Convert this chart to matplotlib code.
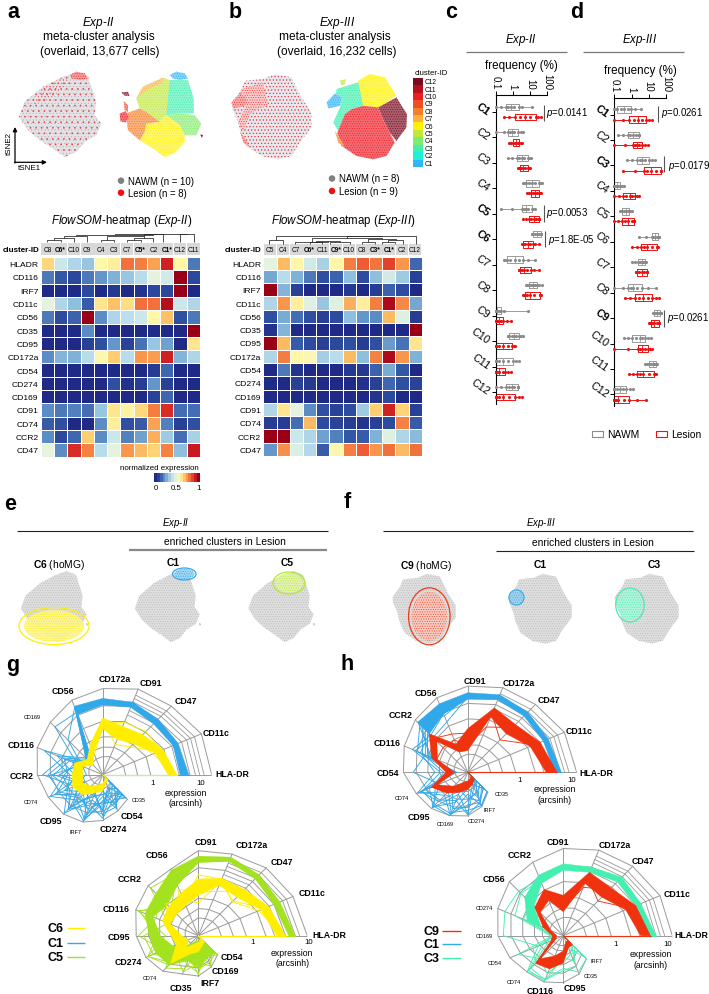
import numpy as np
import matplotlib
matplotlib.use('Agg')
import matplotlib.pyplot as plt
from matplotlib.patches import Polygon, Rectangle, Ellipse
from matplotlib.colors import LinearSegmentedColormap, to_rgb

plt.rcParams['font.family'] = ['Liberation Sans', 'DejaVu Sans']
plt.rcParams['mathtext.fontset'] = 'custom'
plt.rcParams['mathtext.it'] = 'Liberation Sans:italic'
plt.rcParams['mathtext.rm'] = 'Liberation Sans'
plt.rcParams['mathtext.bf'] = 'Liberation Sans:bold'
plt.rcParams['hatch.linewidth'] = 0.4

W, H = 709, 995
MARKERS_II = ['HLADR','CD116','IRF7','CD11c','CD56','CD35','CD95','CD172a','CD54','CD274','CD169','CD91','CD74','CCR2','CD47']
HEAD_II = ['C8','C6*','C10','C9','C4','C3','C7','C5*','C2','C1*','C12','C11']
HEAD_III = ['C5','C4','C7','C6*','C11','C9*','C10','C8','C3*','C1*','C2','C12']
HEAT_II = [
 [.63,.42,.36,.32,.56,.58,.80,.78,.72,.92,.56,.17],
 [.17,.11,.08,.17,.22,.27,.32,.38,.47,.43,1.0,.08],
 [0,0,0,.08,0,.04,0,.03,.08,.08,1.0,0],
 [.47,.36,.30,.12,.60,.67,.62,.80,.80,.96,.42,.36],
 [.17,.09,.13,1.0,.20,.36,.39,.42,.56,.67,.10,.17],
 [0,0,0,.20,0,0,0,0,.01,0,0,1.0],
 [0,0,0,.06,.10,.22,.07,.16,.32,.24,0,.60],
 [.20,.28,.27,.38,.55,.65,.38,.74,.73,.92,.28,.36],
 [0,0,0,0,0,0,0,0,.05,.14,0,0],
 [0,0,0,0,0,.10,.02,.05,.22,.06,0,0],
 [0,0,0,0,0,0,0,0,.07,.14,0,0],
 [.20,.17,.18,.15,.32,.60,.57,.63,.78,.90,.15,.15],
 [.12,.10,0,0,.20,.58,.10,.12,.72,.18,.06,.10],
 [.20,.08,.14,.65,.20,.42,.18,.24,.70,.33,.15,.35],
 [.48,.20,.90,.77,.38,.47,.74,.68,.64,.77,.30,.93]]
HEAT_III = [
 [.47,.68,.56,.43,.35,.56,.78,.83,.79,.87,.74,.14],
 [.25,.38,.27,.17,.10,.13,.30,.09,.30,.43,.33,.06],
 [1.0,.28,.06,0,0,0,.04,0,.05,.13,.09,0],
 [.36,.74,.58,.46,.32,.46,.70,.58,.78,.97,.76,.25],
 [.10,.26,.15,.10,.06,.09,.30,.22,.20,.68,.46,.05],
 [.03,.28,0,0,0,0,0,0,0,0,0,1.0],
 [1.0,.68,.12,.09,.06,.08,.10,.05,.10,.23,.16,.60],
 [.36,.78,.56,.54,.34,.38,.68,.30,.77,.97,.74,.27],
 [0,.17,.03,0,0,0,.04,.04,.13,.26,.11,0],
 [0,0,.06,.04,0,0,0,.02,.06,.14,.10,.07],
 [0,0,0,0,0,0,0,0,.03,.08,0,0],
 [.36,.60,.47,.20,.10,.07,.09,.33,.65,.92,.64,.06],
 [.05,.05,.15,.68,.09,.07,.05,.03,.06,.09,.77,.12],
 [1.0,1.0,.42,.36,.24,.18,.11,.12,.27,.46,.36,.29],
 [.22,.75,.45,.37,.12,.55,.78,.83,.74,.80,.68,.80]]

CLUSTERS = ['C%d' % i for i in range(1, 13)]
CLUSTER_COL = ['#30b5f5','#20f0d8','#3ff0b0','#80ec6b','#c0e83a','#fff200','#fbb040','#f57f29','#f04e23','#ee1c25','#b5101c','#7b0a1e']
BOLD_C = ['C1','C5','C6']
BOLD_D = ['C1','C3','C9']

# frequency (%) per sample, nine read-off values for every box
C_NAWM = [
 [.1,.2,.4,.55,.75,1.2,2.4,3.5,12.7],[.1,.3,.56,.7,.87,1.2,1.9,3,4.2],[.5,.9,1.7,2.4,3.4,4.5,7.6,9,12],
 [4.2,5,6,9,13,20,32,40,53],[.2,.9,3.6,4.5,6,8,12.5,15,21],[12.7,13,14.6,19,25,33,45,46,47],
 [.3,.35,.45,.7,1.4,2.4,4.2,8,21],[5.8,7,8.5,11,14.6,19,27,33,53],[.1,.1,.1,.11,.12,.15,.2,.3,7.6],
 [.5,.55,.64,.9,1.2,1.6,2.2,3,4.2],[.1,.1,.1,.16,.28,.5,1,1.5,2.4],[.1,.2,.4,.6,.87,1.2,1.9,1.95,2]]
C_LESION = [
 [.31,.6,1.4,2.5,5,10,23,30,43],[.6,.8,1,1.3,1.6,2,2.4,2.9,3.4],[2,2.2,2.6,3.2,4.2,5.5,7.6,8.5,9.5],
 [6.8,9,12,16,21,27,35,40,45],[4.2,6,8.5,12,17,24,32,34,36],[3.4,3.8,4.2,5.5,7.6,10,14.6,20,32],
 [2.2,2.4,2.6,3.5,4.6,7,11.5,18,36],[3.8,4.4,5.1,7,10,18,39,40,42],[.1,.1,.1,.13,.16,.2,.28,.45,.75],
 [.1,.1,.1,.16,.28,.5,.87,1.1,1.3],[.1,.1,.1,.12,.16,.25,.35,.55,.8],[.1,.1,.1,.16,.28,.6,1.4,2.2,3.4]]
D_NAWM = [
 [.1,.12,.15,.24,.36,.6,.89,1.6,3.5],[.16,.3,.6,.85,1.15,1.8,2.7,2.75,2.8],[.52,1.1,2.1,2.9,3.9,6,10.2,15,23],
 [.1,.1,.1,.12,.14,.17,.21,.28,.38],[.21,.24,.27,.35,.47,.6,.74,.85,1],[2.8,7,14.7,18,23,29,36,39,41],
 [1,1.6,2.5,3.1,3.9,4.8,6,6.4,6.8],[.1,.3,.65,.9,1.27,2.2,3.9,9,26],[18,19,20,25,32,38,45,49,53],
 [.38,.6,1,1.8,3,4.2,6,9,13],[6,8,11,14,17,21,26,27,29],[.1,.1,.1,.14,.21,.32,.47,.8,1.27]]
D_LESION = [
 [.1,.3,.74,1.4,2.5,4,6.5,10,15],[.1,.4,1.3,1.6,2,2.8,3.9,6,9.4],[.33,1.5,5.3,8,12.8,25,48,48,48],
 [.1,.18,.33,.5,.81,1.1,1.6,2.1,2.7],[.1,.17,.27,.42,.65,1,1.4,1.42,1.45],[1,2,3.5,5,7.5,15,29,32,36],
 [1.7,1.85,2,2.8,3.9,5.5,8.2,8.2,8.2],[.42,.85,1.6,2.8,4.8,9,16,25,39],[11,12,13,16,20,30,41,41,41],
 [.1,.6,2.3,3,3.9,6,9.4,12,16],[.74,1.3,2.2,3.2,4.8,10,21,23,25],[.1,.1,.1,.13,.17,.35,.74,2,6.5]]

# radar profiles: fraction of the chart radius per marker
G1_AXES = ['HLA-DR','CD11c','CD47','CD91','CD172a','CD56','CD169','CD116','CCR2','CD74','CD95','IRF7','CD274','CD54','CD35']
G1_OUTER = [1,.98,.89,.85,.79,.74,.68,.65,.60,.54,.51,.47,.42,.36,.32]
G1_C1_LO = [.71,.70,.66,.67,.64,.60,.12]
G1_C1_HI = [.79,.75,.72,.72,.70,.68,.22]
G1_C1_LINES = [
 [.74,.72,.69,.70,.67,.65,.17,.33,.45,.22,.42,.18,.38,.20,.30],
 [.76,.73,.70,.71,.68,.62,.62,.25,.20,.48,.25,.40,.20,.34,.15],
 [.72,.71,.67,.68,.65,.64,.15,.58,.30,.35,.50,.25,.32,.12,.28],
 [.78,.74,.71,.70,.69,.66,.20,.40,.55,.28,.18,.45,.15,.30,.25],
 [.73,.72,.68,.69,.66,.61,.14,.28,.35,.52,.33,.44,.27,.26,.20],
 [.75,.70,.69,.71,.67,.67,.45,.20,.15,.30,.45,.30,.40,.25,.30],
 [.77,.71,.70,.69,.68,.63,.18,.36,.50,.42,.28,.35,.36,.32,.20],
 [.74,.73,.67,.72,.66,.60,.22,.45,.26,.25,.38,.46,.24,.18,.26],
 [.75,.72,.68,.70,.67,.64,.16,.30,.22,.38,.22,.28,.30,.14,.18],
 [.76,.74,.70,.71,.66,.62,.19,.24,.40,.18,.36,.22,.18,.22,.12],
 [.73,.71,.69,.69,.68,.65,.13,.38,.32,.46,.30,.34,.25,.28,.22],
 [.77,.72,.71,.70,.69,.66,.21,.22,.47,.33,.44,.20,.34,.16,.10]]
G1_C6_LO = [.60,.52,.40,.35,.42,.22,.12,.20,.18,.20,.15,.10,.08,.05,.04]
G1_C6_HI = [.68,.60,.52,.48,.52,.30,.20,.28,.28,.30,.26,.18,.15,.08,.07]
G1_C6_LINES = [
 [.64,.56,.36,.30,.50,.28,.16,.25,.26,.27,.22,.15,.12,.07,.05],
 [.62,.58,.56,.52,.47,.26,.14,.22,.20,.25,.24,.12,.10,.06,.05],
 [.66,.50,.43,.38,.44,.20,.18,.27,.22,.22,.18,.16,.13,.05,.06]]
G2_AXES = ['HLA-DR','CD11c','CD47','CD172a','CD91','CD56','CCR2','CD116','CD95','CD274','CD74','CD35','IRF7','CD169','CD54']
G2_OUTER = [1,.94,.88,.81,.78,.66,.65,.62,.57,.52,.46,.38,.37,.31,.25]
G2_C5_LO = [.83,.75,.74,.74,.67,.50,.40,.45,.35,.25,.12,.05,.05,.05,.05]
G2_C5_HI = [.89,.81,.79,.78,.73,.65,.55,.53,.45,.42,.38,.25,.30,.22,.22]
G2_C5_LINES = [
 [.86,.78,.77,.76,.70,.60,.62,.30,.50,.45,.28,.36,.25,.30,.18],
 [.87,.79,.76,.77,.71,.55,.35,.60,.30,.50,.35,.20,.36,.15,.24],
 [.85,.77,.75,.75,.69,.64,.45,.50,.42,.28,.42,.33,.15,.30,.12],
 [.88,.80,.78,.76,.72,.52,.50,.42,.55,.35,.22,.28,.34,.20,.25],
 [.84,.76,.74,.74,.68,.62,.42,.58,.38,.50,.38,.15,.30,.27,.22]]
G2_C6_LO = [.72,.62,.50,.50,.37,.30,.28,.28,.15,.10,.15,.08,.06,.05,.04]
G2_C6_HI = [.80,.70,.60,.57,.52,.42,.38,.36,.25,.22,.36,.18,.15,.10,.08]
G2_C6_LINES = [
 [.76,.66,.45,.54,.30,.36,.32,.34,.20,.18,.30,.14,.10,.08,.06],
 [.74,.68,.58,.44,.40,.46,.30,.30,.22,.15,.34,.12,.12,.07,.05],
 [.78,.60,.44,.56,.56,.33,.42,.29,.18,.20,.25,.16,.08,.09,.07]]
H1_AXES = ['HLA-DR','CD11c','CD47','CD172a','CD91','CD56','CCR2','CD116','CD54','CD74','CD95','CD169','CD274','IRF7','CD35']
H1_OUTER = [1,.96,.88,.84,.79,.74,.68,.63,.59,.51,.47,.43,.40,.34,.26]
H1_C1_LO = [.80,.75,.73,.72,.67,.58,.50]
H1_C1_HI = [.86,.80,.78,.77,.73,.68,.65]
H1_C1_LINES = [
 [.83,.78,.76,.75,.70,.62,.62,.50,.15,.48,.30,.42,.20,.33,.25],
 [.84,.77,.75,.74,.69,.66,.55,.42,.50,.28,.46,.22,.38,.15,.10],
 [.82,.79,.77,.76,.71,.58,.48,.55,.25,.45,.42,.41,.30,.30,.20],
 [.85,.76,.74,.73,.68,.64,.60,.38,.12,.38,.45,.30,.15,.25,.15],
 [.81,.78,.75,.75,.72,.60,.50,.47,.30,.50,.25,.40,.35,.33,.25],
 [.83,.77,.76,.74,.70,.56,.64,.36,.18,.32,.44,.43,.26,.20,.12],
 [.84,.79,.74,.76,.69,.50,.45,.52,.10,.42,.36,.28,.39,.30,.18],
 [.82,.78,.75,.75,.71,.63,.58,.45,.22,.35,.20,.36,.32,.12,.22],
 [.84,.77,.76,.74,.70,.61,.52,.40,.14,.46,.38,.18,.24,.28,.08]]
H1_C9_LO = [.72,.62,.50,.55,.20,.20,.40,.30,.12,.30,.18,.10,.08,.06,.04]
H1_C9_HI = [.82,.72,.62,.64,.40,.28,.50,.36,.20,.36,.27,.20,.16,.12,.09]
H1_C9_LINES = [
 [.78,.68,.56,.60,.30,.24,.47,.33,.15,.34,.24,.16,.13,.10,.07],
 [.75,.66,.42,.58,.36,.38,.44,.34,.17,.32,.22,.18,.10,.08,.06],
 [.80,.70,.58,.45,.25,.32,.32,.31,.14,.35,.20,.14,.14,.09,.05]]
H2_AXES = ['HLA-DR','CD11c','CD47','CD172a','CD91','CCR2','CD56','CD274','CD169','CD54','CD74','CD116','CD95','CD35','IRF7']
H2_OUTER = [1,.96,.90,.85,.80,.73,.70,.65,.60,.53,.47,.46,.43,.38,.30]
H2_C3_LO = [.79,.72,.70,.63,.60,.52,.38,.22]
H2_C3_HI = [.85,.77,.76,.68,.66,.60,.50,.36]
H2_C3_LINES = [
 [.82,.75,.73,.66,.63,.56,.58,.58,.55,.25,.47,.43,.30,.36,.30],
 [.83,.74,.74,.65,.64,.58,.45,.35,.10,.45,.30,.38,.22,.12,.28],
 [.81,.76,.72,.67,.62,.55,.55,.48,.12,.15,.42,.44,.32,.30,.10],
 [.84,.73,.75,.64,.65,.53,.50,.30,.08,.30,.35,.30,.25,.18,.20],
 [.80,.75,.71,.66,.61,.59,.40,.40,.10,.20,.45,.45,.20,.25,.15]]
H2_C9_LO = [.71,.62,.50,.52,.22,.35,.30,.12,.06,.07,.30,.20,.14,.06,.06]
H2_C9_HI = [.80,.72,.62,.63,.37,.46,.37,.20,.10,.12,.36,.33,.25,.12,.12]
H2_C9_LINES = [
 [.76,.68,.56,.60,.30,.42,.34,.15,.08,.10,.34,.28,.20,.10,.09],
 [.74,.66,.45,.58,.35,.38,.36,.18,.07,.09,.32,.30,.18,.08,.10],
 [.78,.70,.60,.48,.25,.44,.32,.14,.09,.11,.35,.22,.23,.11,.08]]

# t-SNE cloud outlines and cluster regions (t-SNE map units)
II_OUT = [(530,222),(565,235),(575,265),(590,310),(585,350),(605,375),(590,410),(555,430),(530,460),(495,475),(460,450),(420,425),(385,395),(358,355),(375,310),(430,265),(490,235)]
II_REG = {
 'C5':[(430,265),(490,238),(510,245),(510,290),(500,350),(480,370),(440,340),(420,330),(410,300)],
 'C3':[(510,245),(565,245),(582,300),(583,345),(540,345),(500,350)],
 'C4':[(500,350),(540,345),(585,350),(605,375),(590,410),(555,410),(540,380)],
 'C6':[(440,375),(480,370),(500,350),(540,380),(555,410),(555,430),(530,460),(495,475),(460,450),(420,425),(435,400)],
 'C8':[(378,345),(420,330),(440,340),(480,370),(440,375),(435,400),(420,425),(385,395)],
 'C7':[(410,300),(430,265),(490,238),(490,252),(440,275)],
 'C1':[(510,230),(530,220),(555,225),(565,240),(540,245),(520,240)],
 'C10':[(360,345),(378,338),(388,355),(378,372),(362,368)],
 'C9':[(372,308),(385,320),(385,340),(375,335)],
 'C12':[(365,282),(385,280),(390,292),(375,292)]}
II_SPECKS = [[(615,337),(624,340),(622,347)],[(602,407),(611,410),(606,418)]]
III_OUT = [(290,310),(320,270),(330,245),(385,240),(420,225),(470,235),(500,295),(530,340),(530,385),(495,430),(470,470),(430,480),(380,470),(335,440),(315,395),(310,370),(292,330)]
III_REG = {
 'C6':[(385,245),(420,225),(465,235),(500,290),(445,325),(400,320),(380,270)],
 'C3':[(320,270),(385,250),(400,320),(365,330),(345,345),(325,395),(310,370),(330,325),(335,295),(318,285)],
 'C1':[(290,310),(315,283),(335,295),(330,320),(295,328)],
 'C12':[(445,325),(500,295),(532,345),(530,385),(500,425),(480,400),(460,360)],
 'C10':[(345,345),(365,330),(400,320),(445,325),(460,360),(480,400),(495,430),(470,470),(430,480),(380,470),(335,440),(322,400)],
 'C5':[(330,245),(348,240),(345,255),(335,260)],
 'C8':[(315,395),(335,425),(345,445),(325,430)]}
III_SPECKS = [[(266,354),(274,350),(275,358)]]

fig = plt.figure(figsize=(W/100, H/100), dpi=100)
fig.patch.set_facecolor('white')
ov = fig.add_axes([0, 0, 1, 1], zorder=50)
ov.set_xlim(0, W); ov.set_ylim(H, 0); ov.axis('off'); ov.patch.set_alpha(0)

def axpx(x0, y0, x1, y1, **kw):
    return fig.add_axes([x0/W, 1-y1/H, (x1-x0)/W, (y1-y0)/H], **kw)

def T(x, y, s, size=7, ha='center', va='center', **kw):
    return ov.text(x, y, s, fontsize=size, ha=ha, va=va, **kw)

def L(xs, ys, c='k', lw=.7, **kw):
    ov.plot(xs, ys, color=c, lw=lw, solid_capstyle='butt', **kw)

# panel letters
for (x, y, s) in [(13,12,'a'),(235,12,'b'),(451,12,'c'),(577,12,'d'),(10,505,'e'),(347,503,'f'),(13,665,'g'),(347,665,'h')]:
    T(x, y, s, size=15.5, fontweight='bold')

# ---------- t-SNE clouds ----------
def lighten(c, a=.6):
    r = np.array(to_rgb(c))
    return tuple(r*(1-a)+a)

def hatch_poly(ax, pts, c, a=.55, hatch='.......', z=2, fill=True):
    ax.add_patch(Polygon(pts, closed=True, fc=lighten(c, a) if fill else 'none', ec=c, lw=0, hatch=hatch, zorder=z))

def tsne_axes(box, xlim, ylim):
    ax = axpx(*box)
    ax.set_xlim(*xlim); ax.set_ylim(ylim[1], ylim[0]); ax.axis('off')
    return ax

IIx, IIy = (355,610), (218,478)
IIIx, IIIy = (288,535), (222,485)

ax = tsne_axes((18,72,103,159), IIx, IIy)
hatch_poly(ax, II_OUT, '#b4b4c0', .62, '.....')
hatch_poly(ax, II_OUT, '#e84040', .9, '...', fill=False, z=3)
hatch_poly(ax, II_REG['C1'], '#ee2222', .55, z=3)
hatch_poly(ax, [(430,265),(490,238),(510,250),(450,300),(400,320)], '#ee5555', .9, '.....', 3, fill=False)

ax = tsne_axes((118,72,203,159), IIx, IIy)
for k, p in II_REG.items():
    hatch_poly(ax, p, CLUSTER_COL[CLUSTERS.index(k)], .4)
for p in II_SPECKS:
    hatch_poly(ax, p, '#7b0a1e', .2)

ax = tsne_axes((231,74,313,162), IIIx, IIIy)
hatch_poly(ax, III_OUT, '#b8b8c8', .65, '.....')
hatch_poly(ax, III_OUT, '#ee3333', .9, '.....', fill=False, z=3)
hatch_poly(ax, III_REG['C1'], '#ee3333', .6, z=3)
hatch_poly(ax, III_REG['C3'], '#ee3333', .75, z=3)
hatch_poly(ax, III_REG['C8'], '#ee3333', .6, z=3)

ax = tsne_axes((326,74,408,162), IIIx, IIIy)
for k, p in III_REG.items():
    hatch_poly(ax, p, CLUSTER_COL[CLUSTERS.index(k)], .35)
for p in III_SPECKS:
    hatch_poly(ax, p, '#7b0a1e', .2)

# titles a, b
T(98,23,r'$\mathit{Exp}$-$\mathit{II}$',8.6)
T(99,37,'meta-cluster analysis',8.6)
T(100,52,'(overlaid, 13,677 cells)',8.6)
T(337,23,r'$\mathit{Exp}$-$\mathit{III}$',8.6)
T(335,37,'meta-cluster analysis',8.6)
T(337,52,'(overlaid, 16,232 cells)',8.6)
ov.scatter([121,121,332,332],[181.7,193.7,179.5,192],s=22,c=['#808080','#ee1111','#808080','#ee1111'],lw=0)
T(128,181.7,'NAWM (n = 10)',6.9,ha='left')
T(128,193.7,'Lesion (n = 8)',6.9,ha='left')
T(339,179.5,'NAWM (n = 8)',6.9,ha='left')
T(339,192,'Lesion (n = 9)',6.9,ha='left')
# tSNE arrows
ov.annotate('',xy=(15,128),xytext=(15,164),arrowprops=dict(arrowstyle='-|>',lw=.9,color='k',mutation_scale=6,shrinkA=0,shrinkB=0))
ov.annotate('',xy=(47,163.3),xytext=(14.5,163.3),arrowprops=dict(arrowstyle='-|>',lw=.9,color='k',mutation_scale=6,shrinkA=0,shrinkB=0))
T(29.5,168.5,'tSNE1',5.8)
T(9.5,143,'tSNE2',5.8,rotation=90)
# cluster legend
T(431,73.5,'cluster-ID',5.6)
cax = axpx(413.3,79,422.7,167.7)
cax.imshow(np.arange(12)[::-1].reshape(-1,1),cmap=matplotlib.colors.ListedColormap(CLUSTER_COL),aspect='auto',interpolation='nearest')
cax.axis('off')
for i, c in enumerate(CLUSTERS):
    T(425,167.7-(i+.5)*7.39,c,4.8,ha='left')

# ---------- heatmaps ----------
cmap = LinearSegmentedColormap.from_list('hm',[(0,'#1f2a86'),(.1,'#2f50a2'),(.2,'#5b8cc4'),(.3,'#8fc0dd'),(.4,'#c3e3ee'),(.48,'#e8f4dc'),(.56,'#fff7a8'),(.65,'#fecf70'),(.75,'#f89048'),(.85,'#ea5030'),(.93,'#cc1a20'),(1,'#990018')])

def heatmap(box, head_y, data, heads, title, title_xy, dend, origin):
    ax = axpx(*box)
    ax.pcolormesh(np.array(data)[::-1], cmap=cmap, vmin=0, vmax=1, edgecolors='white', linewidth=.6)
    ax.set_yticks(np.arange(15)+.5); ax.set_yticklabels(MARKERS_II[::-1], fontsize=6.1)
    ax.set_xticks([]); ax.tick_params(length=0, pad=1.5)
    for s in ax.spines.values():
        s.set_visible(False)
    x0, y0, x1, y1 = box
    cw = (x1-x0)/12
    for i, h in enumerate(heads):
        ov.add_patch(Rectangle((x0+i*cw+.3, head_y[0]), cw-.6, head_y[1]-head_y[0], fc='#d8d8d8', ec='none'))
        T(x0+(i+.5)*cw, (head_y[0]+head_y[1])/2+.2, h, 4.7, fontweight='bold' if '*' in h else 'normal')
    T(x0-1.5, (head_y[0]+head_y[1])/2, 'cluster-ID', 5.8, ha='right', fontweight='bold')
    T(title_xy[0], title_xy[1], title, 8.3)
    for (a, b, yt, y1_, y2_) in dend:
        xa, xb = origin[0]+a/3, origin[0]+b/3
        L([xa, xa, xb, xb], [origin[1]+y1_/3, origin[1]+yt/3, origin[1]+yt/3, origin[1]+y2_/3], c='#222222', lw=.55)

DEND_II = [(142,182,122,130,130),(162,222,116,122,130),(192,262,112,116,130),(302,342,122,130,130),(382,422,122,130,130),
           (402,460,117,122,130),(322,431,112,122,117),(431,490,106,112,130),(227,460,108,112,106),(540,582,105,130,130),(344,561,105,108,105)]
DEND_III = [(163,205,122,135,135),(285,322,130,135,135),(345,405,128,135,135),(303,375,125,130,128),(240,340,128,135,125),
            (440,480,128,135,135),(500,540,128,135,135),(520,565,123,128,135),(460,542,120,128,123),(290,500,118,128,120),
            (395,602,112,118,135),(184,500,112,122,112)]
heatmap((40.7,258,200,457.5),(244.3,256),HEAT_II,HEAD_II,r'$\mathit{FlowSOM}$-heatmap ($\mathit{Exp}$-$\mathit{II}$)',(122,221),DEND_II,(0,200))
heatmap((263.3,257.5,421.7,457),(245,256),HEAT_III,HEAD_III,r'$\mathit{FlowSOM}$-heatmap ($\mathit{Exp}$-$\mathit{III}$)',(343,221),DEND_III,(215,200))

cb = axpx(154.3,474,200,482.7)
cb.imshow(np.linspace(0,1,16).reshape(1,-1),cmap=cmap,aspect='auto',vmin=0,vmax=1,interpolation='nearest')
cb.axis('off')
T(159,469,'normalized expression',5.7)
T(155.5,488.5,'0',5.7); T(176.5,488.5,'0.5',5.7); T(199,488.5,'1',5.7)

# ---------- frequency box plots ----------
def boxes(box, nawm, lesion, bold, header, hx, freq_y, line, pvals):
    ax = axpx(*box)
    ax.set_xscale('log'); ax.set_xlim(.1,100)
    y0 = box[1]
    ax.set_ylim(11+(box[3]-393-(y0-96))/25.45, -(17/25.45))
    pos = np.arange(12)
    for data, off, col, ecol in [(nawm,-.2,'#8a8a8a','#9a9a9a'),(lesion,.2,'#ee1111','#ee1111')]:
        st = dict(color=ecol, lw=.7)
        ax.boxplot(data, positions=pos+off, widths=.26, orientation='horizontal', whis=(0,100), showfliers=False, showcaps=False,
                   boxprops=st, whiskerprops=st, medianprops=dict(color=ecol, lw=.6), manage_ticks=False)
        for i, vals in enumerate(data):
            ax.scatter(vals, np.full(len(vals), i+off), s=5, c=col, lw=0, zorder=4, clip_on=False)
    ax.spines['right'].set_visible(False); ax.spines['bottom'].set_visible(False)
    ax.spines['left'].set_linewidth(.8); ax.spines['top'].set_linewidth(.8)
    ax.xaxis.tick_top(); ax.minorticks_off()
    ax.set_xticks([.1,1,10,100]); ax.set_xticklabels(['0.1','1','10','100'],rotation=270,fontsize=6.9,va='bottom',ha='center')
    ax.tick_params(axis='x',length=3,width=.7,pad=1.5)
    ax.set_yticks(pos); ax.set_yticklabels(CLUSTERS,rotation=-35,fontsize=7.8,rotation_mode='anchor',ha='right',va='center')
    ax.tick_params(axis='y',length=3,width=.7,pad=2)
    for lab in ax.get_yticklabels():
        if lab.get_text() in bold:
            lab.set_fontweight('bold')
    ax.patch.set_alpha(0)
    T(hx,40,header,8.3)
    L(line,[53.3,53.3],c='#777777',lw=.9)
    T(hx+.7,freq_y,'frequency (%)',8.4)
    for (lx, ly0, ly1, tx, ty, s) in pvals:
        L([lx,lx],[ly0,ly1],c='#555555',lw=.8)
        T(tx,ty,r'$\mathit{p}$='+s,6.9,ha='left')

boxes((495.7,96,547,405),C_NAWM,C_LESION,BOLD_C,r'$\mathit{Exp}$-$\mathit{II}$',521,66,(466.3,566.7),
      [(544.3,105.7,121.7,546.5,112.7,'0.0141'),(544,206,222.7,546.5,213,'0.0053'),(545.3,231.7,248,547.5,240,'1.8E-05')])
boxes((614.3,98.5,666,406.7),D_NAWM,D_LESION,BOLD_D,r'$\mathit{Exp}$-$\mathit{III}$',640,71,(583.3,684),
      [(657.7,106.7,123,661,113.3,'0.0261'),(664.3,156.7,173,668.5,165.7,'0.0179'),(664,311,328,667,318.3,'0.0261')])
for (x,c,s) in [(597,'#8a8a8a','NAWM'),(661,'#ee1111','Lesion')]:
    ov.add_patch(Rectangle((x-5,432.3),10.5,5.4,fc='white',ec=c,lw=.8))
    T(x+9.7,435,s,7.4,ha='left')

# ---------- e, f ----------
CLOUD = '#b8b8b8'
def small(box, out, specks, xl, yl):
    ax = tsne_axes(box, xl, yl)
    hatch_poly(ax, out, CLOUD, .55, '.......')
    for p in specks:
        hatch_poly(ax, p, CLOUD, .2)
    return ax

for box in [(20,571,88,644),(134,571,201,644),(247.5,571,315,644)]:
    small(box, II_OUT, II_SPECKS, IIx, IIy)
for box in [(392,574,457,646),(508,574,573,646),(614,574,680,646)]:
    small(box, III_OUT, III_SPECKS, IIIx, IIIy)

T(176,523,r'$\mathit{Exp}$-$\mathit{II}$',7)
L((17,328),(531.7,531.7),c='#222222',lw=.8)
T(225,542,'enriched clusters in Lesion',7.4)
L((129,327),(551.3,551.3),c='#888888',lw=1.6)
T(59,565,r'$\mathbf{C6}$ (hoMG)',7.4); T(173.5,563,'C1',7.4,fontweight='bold'); T(287,563,'C5',7.4,fontweight='bold')
T(541,523,r'$\mathit{Exp}$-$\mathit{III}$',7)
L((383,693),(531.7,531.7),c='#222222',lw=.8)
T(593,542.5,'enriched clusters in Lesion',7.4)
L((496,694),(551.5,551.5),c='#222222',lw=.8)
T(426,566,r'$\mathbf{C9}$ (hoMG)',7.4); T(540,565,'C1',7.4,fontweight='bold'); T(654,565,'C3',7.4,fontweight='bold')

def spot(xc, yc, w, h, c, angle=0, hatch='.......', inner=.86, a=.72):
    ov.add_patch(Ellipse((xc,yc),w*inner,h*inner,angle=angle,fc=lighten(c,a),ec=c,lw=0,hatch=hatch,alpha=.9))
    ov.add_patch(Ellipse((xc,yc),w,h,angle=angle,fc='none',ec=c,lw=.9))

spot(54,627,70,37,'#ffee00',a=.55)
spot(184.3,575,23.5,12,'#30a8e8',a=.5)
spot(289,584,32,22,'#b6e82a',a=.6)
spot(429.3,617.3,41.5,57,'#f03a18')
spot(516.5,598.5,15,15,'#30a8e8',a=.5)
spot(630,606,28.5,34,'#40f0b0',a=.55)

# ---------- radar charts ----------
ANG = np.deg2rad(np.arange(15)*22.5)
RING_ALL = [.21,.32,.44,.62,.80,1.0]
RING_ARC = [.70,.75,.85,.89,.93]
GRID = '#9a9a9a'

def radar(cx, cy, outer, series, R=109):
    outer = np.array(outer)
    ax = axpx(cx-R, cy-R, cx+R, cy+R, projection='polar')
    ax.set_ylim(0,1); ax.axis('off'); ax.patch.set_alpha(0)
    for a, o in zip(ANG, outer):
        ax.plot([a,a],[0,o],color=GRID,lw=.7,zorder=1)
    for r in RING_ALL:
        ax.plot(ANG,outer*r,color=GRID,lw=.7,zorder=1)
    for r in RING_ARC:
        ax.plot(ANG[:4],outer[:4]*r,color=GRID,lw=.6,zorder=1)
    for (col, lo, hi, lines) in series:
        n = len(lo)
        ax.fill(np.r_[ANG[:n],ANG[:n][::-1]],np.r_[lo,hi[::-1]],color=col,lw=.3,zorder=2)
        ax.plot([0,0],[0,hi[0]],color=col,lw=.8,zorder=2)
        for l in lines:
            ax.plot(ANG,l,color=col,lw=.65,zorder=2)
            ax.plot([ANG[-1],0],[l[-1],0],color=col,lw=.45,zorder=2)
    return ax

BLUE,YEL,LIME,RED,TEAL = '#30a8ea','#ffee00','#a3e21e','#f0320f','#44f0b0'
radar(102.7,775.7,G1_OUTER,[(BLUE,G1_C1_LO,G1_C1_HI,G1_C1_LINES),(YEL,G1_C6_LO,G1_C6_HI,G1_C6_LINES)])
radar(198.3,936.7,G2_OUTER,[(LIME,G2_C5_LO,G2_C5_HI,G2_C5_LINES),(YEL,G2_C6_LO,G2_C6_HI,G2_C6_LINES)])
radar(467.7,773.3,H1_OUTER,[(BLUE,H1_C1_LO,H1_C1_HI,H1_C1_LINES),(RED,H1_C9_LO,H1_C9_HI,H1_C9_LINES)])
radar(563.3,936.7,H2_OUTER,[(TEAL,H2_C3_LO,H2_C3_HI,H2_C3_LINES),(RED,H2_C9_LO,H2_C9_HI,H2_C9_LINES)])

def labels(names, pos, small_set, ticks, expr):
    for n, (x,y) in zip(names, pos):
        if n in small_set:
            T(x,y,n,4.0)
        else:
            T(x,y,n,6.3,fontweight='bold')
    T(ticks[0],ticks[2],'1',5.6); T(ticks[1],ticks[2],'10',5.6)
    T(expr[0],expr[1],'expression',6.2); T(expr[0],expr[1]+10.3,'(arcsinh)',6.2)

labels(G1_AXES,[(232.3,774.3),(216,733),(186,701.7),(150.7,684),(114.3,680),(62.7,692),(32.7,717.7),(20.7,745),(21.7,776.7),(30.7,803),(50.7,821.7),(76,832),(113.3,829.3),(132.3,816.7),(138.3,801)],
       {'CD169','CD74','IRF7','CD35'},(152.3,201,783.3),(186,793))
labels(G2_AXES,[(329,935),(311.7,894),(281.7,862.7),(251.3,846),(206,842.7),(157.3,855.7),(129.3,879.3),(116.3,910),(119,937.7),(128.3,962.3),(149.7,979),(181,988.7),(210.3,983.7),(225.7,971),(232.3,957)],
       {'CD74'},(252.7,309,942.7),(292.3,953.3))
labels(H1_AXES,[(596,773),(579,731.7),(549.3,700.3),(518.3,683),(475.3,681),(426.3,693.3),(400.3,716),(386.7,744),(388.3,774),(402,798.3),(419.3,817.7),(445,824.3),(476.3,821.7),(490,810.3),(501.7,794.7)],
       {'CD74','CD169','CD274','IRF7','CD35'},(520,571.7,780.7),(555,790))
labels(H2_AXES,[(691.7,935.7),(676.7,894.7),(643.3,862),(615,845),(557.7,842.3),(519.7,856),(494.3,880),(484.3,908.3),(484.3,937),(495,963.7),(514.3,982),(540,991),(575,988.3),(590.3,976.3),(596.7,961.3)],
       {'CD274','CD169','CD54','CD74','CD35','IRF7'},(615.7,667.3,944),(651,954.7))

for (y,s,c) in [(929,'C6',YEL),(943.7,'C1',BLUE),(958,'C5',LIME)]:
    T(55,y,s,9,fontweight='bold'); L((66.7,85),(y,y),c=c,lw=1)
for (y,s,c) in [(931.7,'C9',RED),(945.3,'C1',BLUE),(959.3,'C3',TEAL)]:
    T(431,y,s,9,fontweight='bold'); L((441.7,460.7),(y,y),c=c,lw=1)

fig.savefig('out.png', dpi=100)
